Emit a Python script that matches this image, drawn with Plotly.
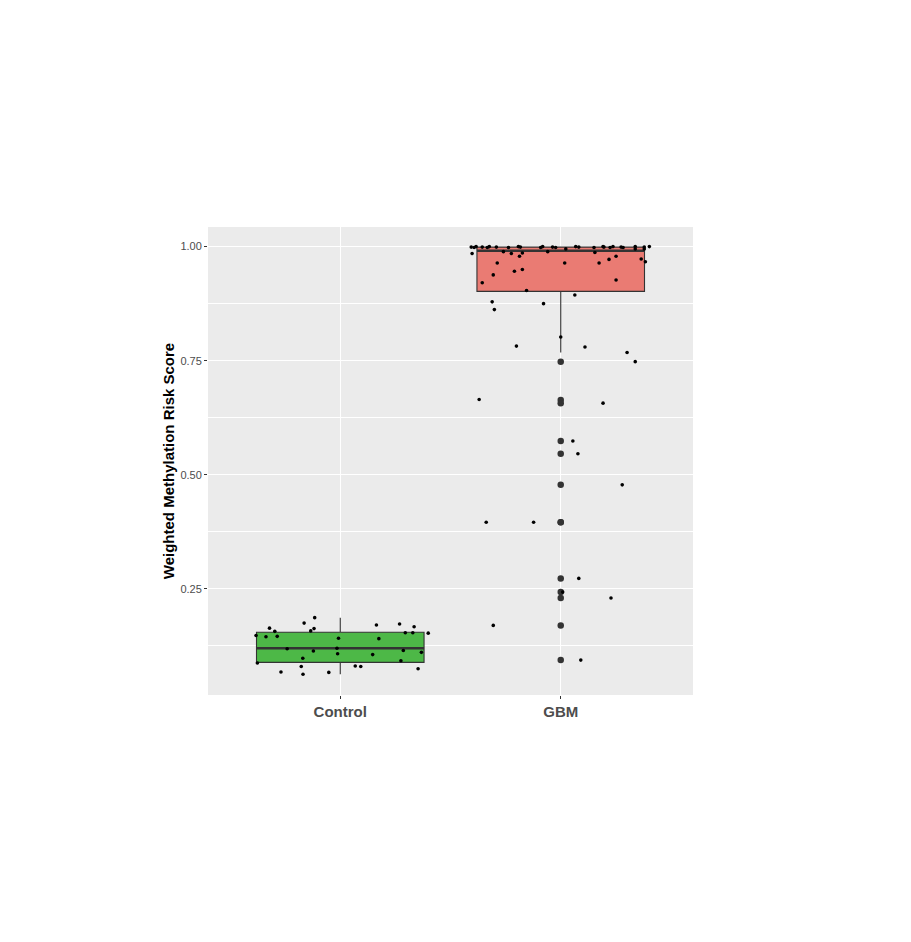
"""Boxplot of weighted methylation risk score, Control vs GBM, with jittered samples."""
import plotly.graph_objects as go

# --------------------------------------------------------------------------- #
# Data
# --------------------------------------------------------------------------- #
groups = ["Control", "GBM"]
group_pos = [1, 2]
box_colors = ["#4DB847", "#EA7B73"]

# precomputed box statistics per group
q1 = [0.089, 0.902]
median = [0.120, 0.991]
q3 = [0.155, 0.999]
lower_fence = [0.063, 0.768]
upper_fence = [0.187, 1.000]

# boxplot outliers (GBM only)
gbm_outliers = [0.748, 0.664, 0.657, 0.574, 0.546, 0.478, 0.396, 0.396,
                0.273, 0.243, 0.230, 0.170, 0.094]

# jittered samples: value + horizontal jitter (category units)
control_vals = [0.187, 0.175, 0.164, 0.157, 0.158, 0.163, 0.171, 0.173, 0.167,
                0.154, 0.154, 0.153, 0.148, 0.145, 0.146, 0.142, 0.141, 0.119,
                0.120, 0.114, 0.108, 0.106, 0.115, 0.111, 0.098, 0.0925, 0.0875,
                0.080, 0.081, 0.080, 0.075, 0.068, 0.063, 0.067]
control_jit = [-0.116, -0.164, -0.321, -0.297, -0.134, -0.119, 0.164, 0.269, 0.335,
               0.295, 0.329, 0.399, -0.382, -0.337, -0.286, -0.008, 0.175, -0.241,
               -0.015, -0.122, -0.012, 0.147, 0.286, 0.368, -0.170, 0.275, -0.376,
               -0.177, 0.068, 0.093, 0.353, -0.269, -0.169, -0.052]

gbm_vals = [0.999, 0.998, 1.000, 0.999, 0.998, 1.000, 0.999, 0.998, 1.000, 0.999,
            0.998, 1.000, 0.999, 0.998, 1.000, 0.999, 0.998, 1.000, 0.999, 0.998,
            1.000, 0.999, 0.998, 1.000, 0.999, 1.000,
            0.985, 0.989, 0.985, 0.986, 0.989, 0.995, 0.987, 0.995, 0.995,
            0.979, 0.979, 0.973, 0.967, 0.964, 0.964, 0.964, 0.972, 0.950, 0.946,
            0.938, 0.927, 0.921, 0.904, 0.894, 0.879, 0.875, 0.862, 0.802, 0.782,
            0.780, 0.768, 0.748, 0.665, 0.657, 0.574, 0.546, 0.478, 0.396, 0.396,
            0.273, 0.243, 0.230, 0.170, 0.094]
gbm_jit = [-0.406, -0.393, -0.384, -0.356, -0.333, -0.324, -0.292, -0.237, -0.192,
           -0.183, -0.091, -0.082, -0.037, -0.023, 0.068, 0.082, 0.151, 0.192,
           0.196, 0.224, 0.237, 0.274, 0.283, 0.338, 0.379, 0.402,
           -0.402, -0.260, -0.224, -0.174, -0.059, 0.023, 0.155, 0.338, 0.379,
           -0.187, 0.251, 0.365, 0.384, -0.288, 0.018, 0.174, 0.219, -0.174, -0.210,
           -0.306, 0.251, -0.356, -0.155, 0.064, -0.311, -0.078, -0.301, 0.0, -0.201,
           0.110, 0.301, 0.338, -0.370, 0.192, 0.055, 0.078, 0.279, -0.338, -0.123,
           0.082, 0.009, 0.228, -0.306, 0.091]

y_ticks = [0.25, 0.50, 0.75, 1.00]
y_tick_labels = ["0.25", "0.50", "0.75", "1.00"]
y_minor = [0.125, 0.375, 0.625, 0.875]

BOX_W = 0.76
EDGE = "#333333"

# --------------------------------------------------------------------------- #
# Figure
# --------------------------------------------------------------------------- #
fig = go.Figure()

for i, g in enumerate(groups):
    fig.add_trace(go.Box(
        x=[group_pos[i]], q1=[q1[i]], median=[median[i]], q3=[q3[i]],
        lowerfence=[lower_fence[i]], upperfence=[upper_fence[i]],
        width=BOX_W, whiskerwidth=0, boxpoints=False, fillcolor=box_colors[i],
        line=dict(color=EDGE, width=1.1), name=g, hoverinfo="skip",
    ))
    # ggplot draws a fattened median line
    fig.add_trace(go.Scatter(
        x=[group_pos[i] - BOX_W / 2, group_pos[i] + BOX_W / 2],
        y=[median[i], median[i]], mode="lines",
        line=dict(color=EDGE, width=2.4), hoverinfo="skip",
    ))

fig.add_trace(go.Scatter(
    x=[group_pos[1]] * len(gbm_outliers), y=gbm_outliers, mode="markers",
    marker=dict(color=EDGE, size=6.5, line=dict(width=0)),
))

for pos, vals, jit in [(group_pos[0], control_vals, control_jit),
                       (group_pos[1], gbm_vals, gbm_jit)]:
    fig.add_trace(go.Scatter(
        x=[pos + j for j in jit], y=vals, mode="markers",
        marker=dict(color="black", size=3.6, line=dict(width=0)),
    ))

# page body adds an 8px offset, so the margins are shifted to compensate
fig.update_layout(
    width=911, height=942, showlegend=False,
    paper_bgcolor="white", plot_bgcolor="#EBEBEB",
    margin=dict(l=200, r=226, t=219, b=255),
    font=dict(family="Liberation Sans, Arial, sans-serif"),
)
fig.update_xaxes(
    range=[0.4, 2.6], tickvals=group_pos, ticktext=[f"<b>{g}</b>" for g in groups],
    tickfont=dict(size=15, color="#4D4D4D"), ticks="outside", ticklen=3,
    tickcolor=EDGE, showgrid=True, gridcolor="white", gridwidth=1.1,
    zeroline=False, showline=False,
)
fig.update_yaxes(
    range=[0.0175, 1.043], tickvals=y_ticks, ticktext=y_tick_labels,
    tickfont=dict(size=11, color="#4D4D4D"), ticks="outside", ticklen=3,
    tickcolor=EDGE, showgrid=True, gridcolor="white", gridwidth=1.1,
    minor=dict(tickvals=y_minor, showgrid=True, gridcolor="white", gridwidth=0.5),
    zeroline=False, showline=False,
    title=dict(text="<b>Weighted Methylation Risk Score</b>",
               font=dict(size=15, color="black"), standoff=2),
)

fig.write_html("out.html")
